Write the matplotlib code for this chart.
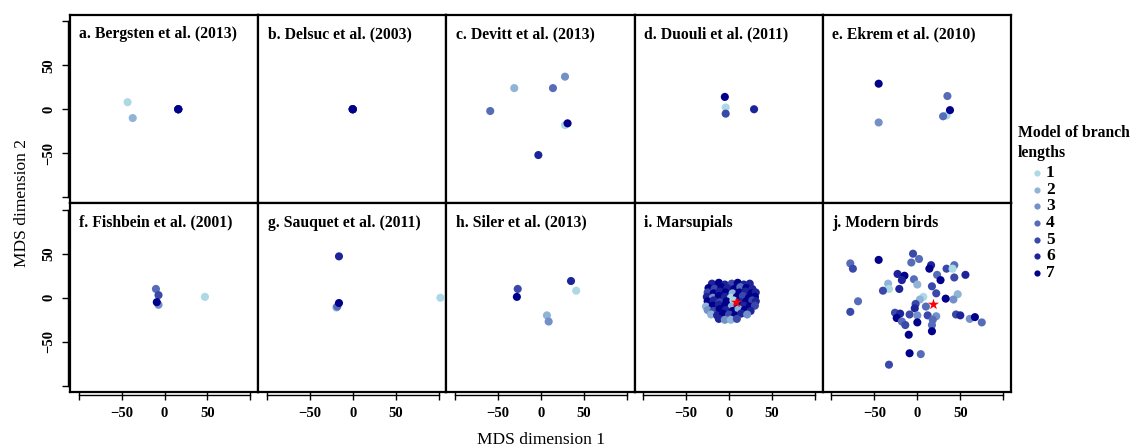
import matplotlib.pyplot as plt

# --- data (MDS coordinates, model of branch lengths 1..7) ---
titles = ["a. Bergsten et al. (2013)", "b. Delsuc et al. (2003)", "c. Devitt et al. (2013)",
          "d. Duouli et al. (2011)", "e. Ekrem et al. (2010)", "f. Fishbein et al. (2001)",
          "g. Sauquet et al. (2011)", "h. Siler et al. (2013)", "i. Marsupials", "j. Modern birds"]

a_x = [-43, -37, 16, 16, 16, 16, 16]
a_y = [8, -10, 0, 0, 0, 0, 0]
a_m = [1, 2, 3, 4, 5, 6, 7]

b_x = [0, 0, 0, 0, 0, 0, 0]
b_y = [0, 0, 0, 0, 0, 0, 0]
b_m = [1, 2, 3, 4, 5, 6, 7]

c_x = [28, -31, 14, -59, 28, 31, -3]
c_y = [37, 24, 24, -2, -18, -16, -52]
c_m = [3, 2, 4, 4, 1, 7, 6]

d_x = [-4, -4, -5, 29]
d_y = [2, -5, 14, 0]
d_m = [1, 5, 7, 6]

e_x = [-45, -45, 35, 34, 30, 38]
e_y = [29, -15, 15, -7, -8, -1]
e_m = [7, 3, 4, 1, 4, 7]

f_x = [47, -7, -10, -7, -9]
f_y = [1, -8, 10, 3, -5]
f_m = [1, 3, 4, 5, 7]

g_x = [102, -19, -18, -16, -16]
g_y = [0, -11, -10, 47, -6]
g_m = [1, 2, 4, 6, 7]

h_x = [41, 7, 9, -27, 35, -28]
h_y = [8, -20, -27, 10, 19, 1]
h_m = [1, 2, 3, 5, 6, 7]

i_x = [-20, -12, -5, 3, 10, 17, 24,
       -24, -17, -9, -2, 6, 13, 20, 27,
       -25, -18, -11, -4, 4, 12, 19, 26, 31,
       -26, -19, -12, -5, 2, 9, 16, 23, 30,
       -25, -18, -11, -3, 5, 13, 20, 27, 31,
       -27, -19, -12, -5, 3, 10, 17, 24, 30,
       -25, -18, -11, -4, 4, 11, 18, 25,
       -21, -14, -7, 0, 7, 14, 21,
       -12, -5, 2, 9]
i_y = [16, 17, 15, 16, 17, 15, 16,
       11, 10, 12, 11, 10, 12, 11, 10,
       6, 5, 7, 6, 5, 6, 7, 5, 6,
       1, 0, 2, 1, 0, 1, 2, 0, 1,
       -4, -3, -5, -4, -3, -5, -4, -3, -4,
       -10, -9, -8, -9, -10, -8, -9, -10, -9,
       -14, -15, -13, -14, -15, -13, -14, -15,
       -19, -20, -18, -19, -20, -18, -19,
       -24, -25, -25, -24]
i_m = [6, 7, 6, 5, 7, 6, 6,
       7, 5, 7, 6, 7, 4, 7, 6,
       5, 7, 6, 7, 2, 7, 6, 7, 6,
       6, 3, 7, 6, 1, 7, 5, 7, 7,
       7, 6, 5, 7, 1, 6, 7, 5, 6,
       2, 7, 6, 7, 2, 7, 6, 7, 5,
       3, 5, 7, 6, 7, 2, 7, 6,
       2, 6, 7, 5, 7, 6, 3,
       6, 3, 2, 5]
i_star = (8, -5)

j_x = [-78, -75, -45, -5, 2, -7, 16, 14, 34, 43, 41, 43, 56,
       -23, -15, -18, -21, -34, -33, -40, -4, 0, 23, 27, 17, 22,
       7, 3, 47, 42, 33, -69, -78, -2, -3, 10,
       -26, -20, -24, -18, -14, -9, 0, 0, 12, 22, 18, 17, 17,
       45, 50, 61, 67, 75, -10, -9, 4, -33]
j_y = [39, 33, 43, 50, 44, 40, 37, 33, 33, 37, 33, 23, 26,
       27, 25, 20, 10, 16, 10, 8, 21, 15, 26, 20, 13, 5,
       1, -2, 4, -2, -1, -4, -16, -7, -12, -10,
       -17, -18, -23, -27, -31, -19, -20, -28, -20, -21, -25, -31, -38,
       -19, -20, -24, -22, -28, -42, -63, -64, -76]
j_m = [4, 5, 7, 5, 4, 4, 6, 7, 5, 4, 1, 5, 6,
       6, 7, 6, 6, 2, 1, 5, 4, 2, 4, 7, 5, 5,
       1, 2, 2, 3, 7, 4, 5, 5, 6, 4,
       5, 6, 7, 4, 5, 5, 3, 7, 5, 3, 4, 4, 7,
       5, 6, 3, 7, 4, 7, 7, 4, 5]
j_star = (18, -7)

model_colors = ["#ADD8E6", "#90B4D7", "#7390C8", "#576CB9", "#3A48A9", "#1D249A", "#00008B"]
model_labels = ["1", "2", "3", "4", "5", "6", "7"]

panels = [(a_x, a_y, a_m, None), (b_x, b_y, b_m, None), (c_x, c_y, c_m, None),
          (d_x, d_y, d_m, None), (e_x, e_y, e_m, None), (f_x, f_y, f_m, None),
          (g_x, g_y, g_m, None), (h_x, h_y, h_m, None), (i_x, i_y, i_m, i_star),
          (j_x, j_y, j_m, j_star)]

plt.rcParams['font.family'] = ['Liberation Serif', 'DejaVu Serif']

W, H = 1136, 448
fig = plt.figure(figsize=(W / 100, H / 100), dpi=100)

left0, top0 = 70, 15
pw, ph = 188.2, 188.5

for k, (xs, ys, ms, star) in enumerate(panels):
    row, col = divmod(k, 5)
    l = left0 + col * pw
    t = top0 + row * ph
    ax = fig.add_axes([l / W, 1 - (t + ph) / H, pw / W, ph / H])
    ax.scatter(xs, ys, c=[model_colors[m - 1] for m in ms], s=34, linewidths=0, zorder=3)
    if star is not None:
        ax.scatter([star[0]], [star[1]], marker='*', c='red', s=70, linewidths=0, zorder=4)
    ax.set_xlim(-110, 109)
    ax.set_ylim(-107, 107)
    for sp in ax.spines.values():
        sp.set_linewidth(1.6)
    ax.text(0.05, 0.94, titles[k], transform=ax.transAxes, ha='left', va='top',
            fontsize=11.3, fontweight='bold')
    ax.set_xticks([-100, -50, 0, 50, 100])
    ax.set_yticks([-100, -50, 0, 50, 100])
    if row == 1:
        ax.set_xticklabels(["", "\u221250", "0", "50", ""], fontsize=10.5, fontweight='bold')
        ax.tick_params(axis='x', length=6, width=1, pad=5)
        ax.plot([-100, 100], [-0.016, -0.016], transform=ax.get_xaxis_transform(),
                clip_on=False, color='black', lw=1)
    else:
        ax.tick_params(axis='x', bottom=False, labelbottom=False)
    if col == 0:
        ax.set_yticklabels(["", "\u221250", "0", "50", ""], fontsize=10.5, fontweight='bold')
        plt.setp(ax.get_yticklabels(), rotation=90, va='center')
        ax.tick_params(axis='y', length=6, width=1, pad=4.5)
        ax.plot([-0.011, -0.011], [-100, 100], transform=ax.get_yaxis_transform(),
                clip_on=False, color='black', lw=1)
    else:
        ax.tick_params(axis='y', left=False, labelleft=False)

fig.text(541 / W, 1 - 440 / H, "MDS dimension 1", ha='center', va='center', fontsize=12.5)
fig.text(22 / W, 1 - 203 / H, "MDS dimension 2", ha='center', va='center', fontsize=12.5,
         rotation=90)

# legend drawn in a figure-sized overlay in pixel units
leg = fig.add_axes([0, 0, 1, 1])
leg.set_xlim(0, W)
leg.set_ylim(H, 0)
leg.axis('off')
leg.text(1018, 133, "Model of branch", ha='left', va='center', fontsize=11.3, fontweight='bold')
leg.text(1018, 153, "lengths", ha='left', va='center', fontsize=11.3, fontweight='bold')
for i, lab in enumerate(model_labels):
    yy = 173 + i * 16.7
    leg.scatter([1037], [yy], c=model_colors[i], s=20, linewidths=0)
    leg.text(1046, yy, lab, ha='left', va='center', fontsize=12.5, fontweight='bold')

fig.savefig("out.png", dpi=100)
